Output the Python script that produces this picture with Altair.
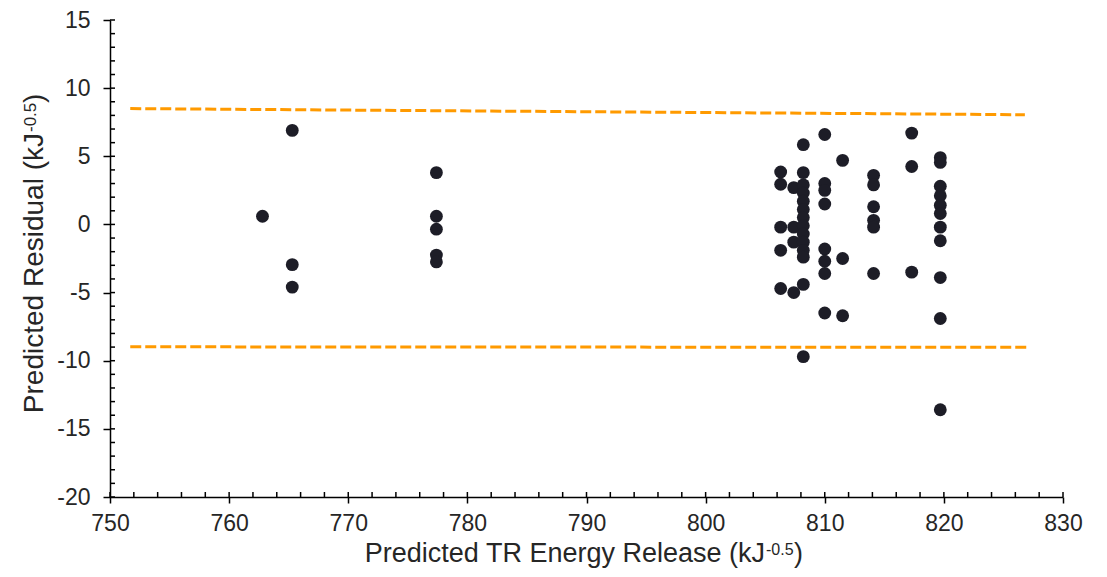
import altair as alt
import pandas as pd

# ---- data ----
pred_energy = [
    762.8,
    765.3, 765.3, 765.3,
    777.4, 777.4, 777.4, 777.4, 777.4,
    806.3, 806.3, 806.3, 806.3, 806.3,
    807.4, 807.4, 807.4, 807.4,
    808.2, 808.2, 808.2, 808.2, 808.2, 808.2, 808.2, 808.2, 808.2, 808.2, 808.2, 808.2, 808.2, 808.2,
    810.0, 810.0, 810.0, 810.0, 810.0, 810.0, 810.0, 810.0,
    811.5, 811.5, 811.5,
    814.1, 814.1, 814.1, 814.1, 814.1, 814.1,
    817.3, 817.3, 817.3,
    819.7, 819.7, 819.7, 819.7, 819.7, 819.7, 819.7, 819.7, 819.7, 819.7, 819.7,
]
residual = [
    0.6,
    6.9, -2.95, -4.6,
    3.8, 0.6, -0.35, -2.25, -2.75,
    3.85, 2.95, -0.2, -1.9, -4.7,
    2.7, -0.2, -1.3, -5.0,
    5.85, 3.8, 2.9, 2.3, 1.7, 1.1, 0.5, -0.1, -0.7, -1.3, -1.9, -2.4, -4.4, -9.7,
    6.6, 3.0, 2.5, 1.5, -1.8, -2.7, -3.6, -6.5,
    4.7, -2.5, -6.7,
    3.6, 2.9, 1.3, 0.3, -0.2, -3.6,
    6.7, 4.25, -3.5,
    4.9, 4.55, 2.8, 2.1, 1.4, 0.8, -0.2, -1.2, -3.9, -6.9, -13.6,
]

upper_x = [751.7, 826.8]
upper_y = [8.5, 8.05]
lower_x = [751.7, 827.2]
lower_y = [-8.98, -9.02]

x_major = [750, 760, 770, 780, 790, 800, 810, 820, 830]
y_major = [-20, -15, -10, -5, 0, 5, 10, 15]
x_minor = list(range(750, 831, 2))
y_minor = list(range(-20, 16, 1))

x_title = "Predicted TR Energy Release (kJ"
y_title = "Predicted Residual (kJ"
unit_sup = "-0.5"

# ---- chart ----
W, H = 953, 477
FONT = "Liberation Sans"
TXT = "#262626"
xscale = alt.Scale(domain=[750, 830], nice=False, zero=False)
yscale = alt.Scale(domain=[-20, 15], nice=False, zero=False)

xaxis = alt.Axis(values=x_major, title=None, grid=False, tickSize=6, tickWidth=1.5,
                 tickColor="black", domainColor="black", domainWidth=1.5,
                 labelFont=FONT, labelFontSize=23, labelColor=TXT, labelPadding=9,
                 labelFlush=False, labelExpr="'' + datum.value")
yaxis = alt.Axis(values=y_major, title=None, grid=False, tickSize=7, tickWidth=1.5,
                 tickColor="black", domainColor="black", domainWidth=1.5,
                 labelFont=FONT, labelFontSize=23, labelColor=TXT, labelPadding=13,
                 labelFlush=False, labelExpr="'' + datum.value")

pts = pd.DataFrame({"energy": pred_energy, "residual": residual})
points = alt.Chart(pts).mark_circle(size=165, color="#1d1d27", opacity=1).encode(
    x=alt.X("energy:Q", scale=xscale, axis=xaxis),
    y=alt.Y("residual:Q", scale=yscale, axis=yaxis),
)

lines_df = pd.DataFrame({
    "x": upper_x + lower_x,
    "y": upper_y + lower_y,
    "grp": ["upper"] * len(upper_x) + ["lower"] * len(lower_x),
})
limits = alt.Chart(lines_df).mark_line(color="#FF9A00", strokeWidth=3, strokeDash=[11, 4]).encode(
    x=alt.X("x:Q", scale=xscale, axis=xaxis),
    y=alt.Y("y:Q", scale=yscale, axis=yaxis),
    detail="grp:N",
)

xm = alt.Chart(pd.DataFrame({"v": x_minor})).mark_rule(color="black", strokeWidth=1.5).encode(
    x=alt.X("v:Q", scale=xscale, axis=xaxis),
    y=alt.value(H), y2=alt.value(H - 5),
)
ym = alt.Chart(pd.DataFrame({"v": y_minor})).mark_rule(color="black", strokeWidth=1.5).encode(
    y=alt.Y("v:Q", scale=yscale, axis=yaxis),
    x=alt.value(0), x2=alt.value(5),
)

one = pd.DataFrame({"a": [0]})
def txt(text, x, y, size, align, angle=0):
    return alt.Chart(one).mark_text(
        text=text, font=FONT, fontSize=size, color=TXT, align=align,
        baseline="alphabetic", angle=angle,
    ).encode(x=alt.value(x), y=alt.value(y))

xt_main = txt(x_title, 655, 542, 27, "right")
xt_sup = txt(unit_sup, 656, 535, 16, "left")
xt_par = txt(")", 684, 542, 27, "left")

yt_main = txt(y_title, -67, 113, 28, "right", angle=270)
yt_sup = txt(unit_sup, -74, 112, 17, "left", angle=270)
yt_par = txt(")", -67, 83, 28, "left", angle=270)

chart = alt.layer(
    points, limits, xm, ym, xt_main, xt_sup, xt_par, yt_main, yt_sup, yt_par
).properties(
    width=W, height=H,
    padding={"left": 102, "top": 12, "right": 36, "bottom": 72},
    autosize=alt.AutoSizeParams(type="none"),
    background="white",
).configure_view(stroke=None)

chart.save("out.html", embed_options={"renderer": "svg", "actions": False})
